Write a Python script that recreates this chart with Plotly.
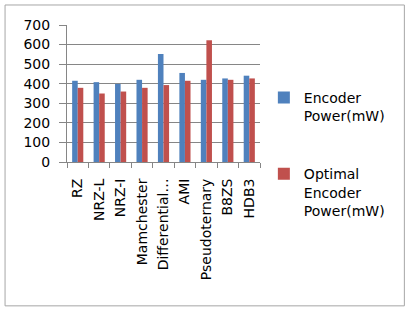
import plotly.graph_objects as go

categories = ["RZ", "NRZ-L", "NRZ-I", "Mamchester", "Differential…", "AMI",
              "Pseudoternary", "B8ZS", "HDB3"]
encoder_power = [415, 408, 399, 420, 552, 455, 420, 427, 441]
optimal_power = [379, 350, 360, 379, 393, 415, 622, 420, 427]
y_ticks = [0, 100, 200, 300, 400, 500, 600, 700]

FONT = "DejaVu Sans, Liberation Sans, sans-serif"

fig = go.Figure()
fig.add_trace(go.Bar(x=categories, y=encoder_power, name="Encoder<br>Power(mW)",
                     marker=dict(color="#4F81BD", line=dict(width=0)),
                     legendgroup="a"))
fig.add_trace(go.Bar(x=categories, y=optimal_power, name="Optimal<br>Encoder<br>Power(mW)",
                     marker=dict(color="#C0504D", line=dict(width=0)),
                     legendgroup="b"))

fig.update_layout(
    width=412, height=312,
    margin=dict(l=67, r=152, t=25, b=150, autoexpand=False),
    paper_bgcolor="white", plot_bgcolor="white",
    font=dict(family=FONT, size=14, color="#000000"),
    barmode="group", bargap=0.48, bargroupgap=0,
    showlegend=True,
    legend=dict(x=1.02, y=0.585, xanchor="left", yanchor="top",
                tracegroupgap=37, font=dict(size=14, color="#000000"),
                itemwidth=30, bgcolor="rgba(0,0,0,0)", valign="top",
                maxheight=300),
    xaxis=dict(type="category", tickangle=-90, showline=True, linecolor="#868686",
               linewidth=1, ticks="outside", ticklen=5, tickcolor="#868686",
               tickson="boundaries", showgrid=False, tickfont=dict(size=14),
               ticklabelstandoff=10),
    yaxis=dict(range=[0, 700], tickvals=y_ticks, showline=True, linecolor="#868686",
               linewidth=1, ticks="outside", ticklen=7, tickcolor="#868686",
               showgrid=True, gridcolor="#868686", gridwidth=1, zeroline=False,
               tickfont=dict(size=14), ticklabelstandoff=6),
    shapes=[dict(type="rect", xref="paper", yref="paper",
                 x0=-0.321, x1=1.748, y0=-1.05, y1=1.146,
                 line=dict(color="#a6a6a6", width=1), fillcolor="rgba(0,0,0,0)")],
)

fig.write_html("out.html", config={"displayModeBar": False},
               post_script="document.body.style.margin='0';")
